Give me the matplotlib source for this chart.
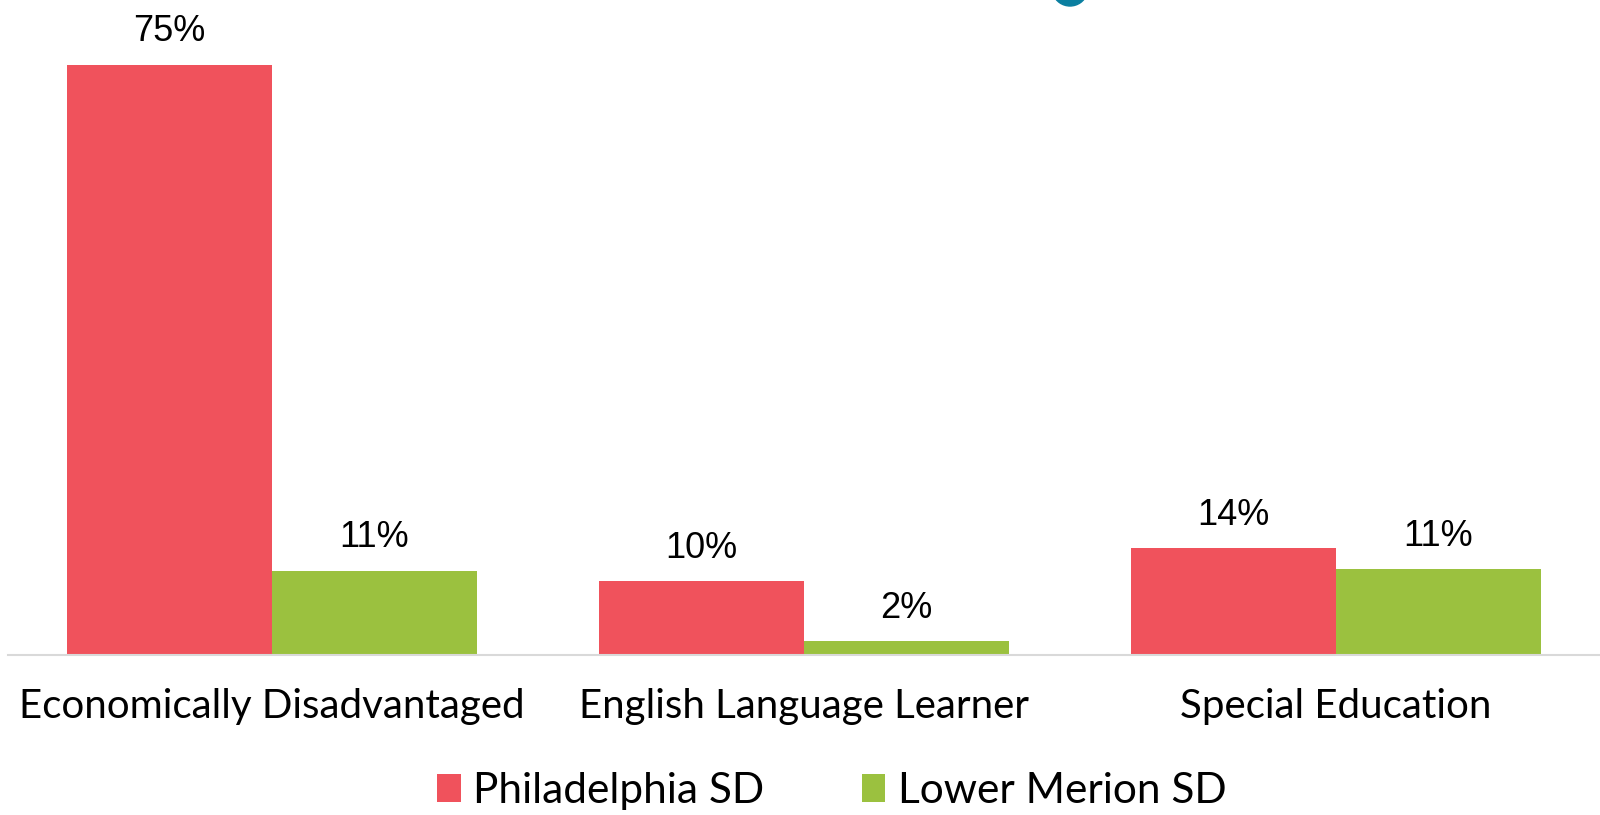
import matplotlib
matplotlib.use("Agg")
import matplotlib.pyplot as plt
from matplotlib.patches import Wedge
import numpy as np

categories = ["Economically Disadvantaged", "English Language Learner", "Special Education"]
series_names = ["Philadelphia SD", "Lower Merion SD"]
philly = [75.0, 9.4, 13.6]
lower_merion = [10.7, 1.8, 10.9]
philly_labels = ["75%", "10%", "14%"]
lm_labels = ["11%", "2%", "11%"]
colors = ["#F0525C", "#9BC13F"]

cat_font = "Lato"
num_font = ["Liberation Sans Narrow", "Liberation Sans", "DejaVu Sans"]

fig = plt.figure(figsize=(16, 8.15), dpi=100)
ax = fig.add_axes([0.005, 160 / 815, 0.995, 655 / 815])
ax.patch.set_visible(False)

x = np.arange(len(categories))
w = 0.385
b1 = ax.bar(x - w / 2, philly, w, color=colors[0], label=series_names[0])
b2 = ax.bar(x + w / 2, lower_merion, w, color=colors[1], label=series_names[1])

for bars, labs in [(b1, philly_labels), (b2, lm_labels)]:
    for r, lab in zip(bars, labs):
        ax.annotate(lab, (r.get_x() + r.get_width() / 2, r.get_height()),
                    xytext=(0, 11), textcoords="offset points",
                    ha="center", va="bottom", fontsize=26, family=num_font)

ax.set_xlim(-0.496, 2.496)
ax.set_ylim(0, 83.2)
ax.set_yticks([])
ax.set_xticks(x)
ax.set_xticklabels(categories, fontsize=29, family=cat_font)
ax.tick_params(axis="x", length=0, pad=24)
for s in ["top", "right", "left"]:
    ax.spines[s].set_visible(False)
ax.spines["bottom"].set_color("#D9D9D9")
ax.spines["bottom"].set_linewidth(1.5)

fig.legend(loc="center", bbox_to_anchor=(0.52, 24 / 815), ncol=2, frameon=False,
           prop={"family": cat_font, "size": 30.5}, handlelength=0.55, handleheight=0.65,
           handletextpad=0.3, columnspacing=2.3)

# small teal decoration cut off at the top edge
deco = fig.add_axes([0, 0, 1, 1], zorder=5)
deco.set_xlim(0, 1600)
deco.set_ylim(815, 0)
deco.axis("off")
deco.add_patch(Wedge((1070, -12), 18, 20, 160, width=10, color="#0A7FA0"))

fig.savefig("out.png", dpi=100)
